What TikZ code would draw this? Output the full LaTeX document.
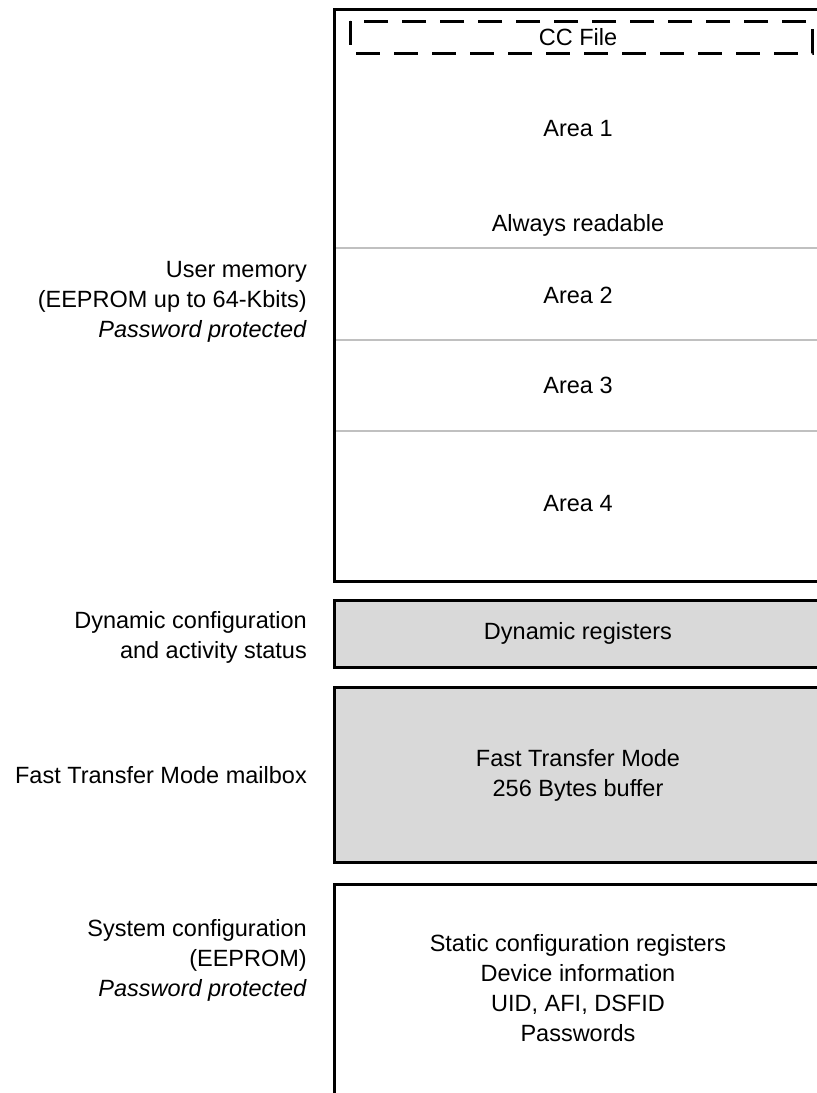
\documentclass[tikz,border=0pt]{standalone}
\usepackage{fontspec}
\setmainfont{Liberation Sans}
\begin{document}
\begin{tikzpicture}[x=1pt,y=-1pt,
  lbl/.style={font=\fontsize{23.5}{30}\selectfont, inner sep=0pt, align=center},
  lbll/.style={font=\fontsize{23.5}{30}\selectfont, inner sep=0pt, align=right, anchor=east},
  blk/.style={draw=black, line width=3pt},
  sep/.style={draw={rgb,255:red,192;green,192;blue,192}, line width=2pt},
  grayfill/.style={fill={rgb,255:red,217;green,217;blue,217}},
  ccbox/.style={draw=black, line width=3pt, dash pattern=on 24pt off 14pt}]
\useasboundingbox (0,0) rectangle (817,1093);
\clip (0,0) rectangle (817,1093);
% user memory box
\draw[blk] (834,9) -- (334,9) -- (334,581) -- (834,581);
\draw[ccbox] (350,21) rectangle (812,53);
\draw[sep] (336,248) -- (817,248);
\draw[sep] (336,340) -- (817,340);
\draw[sep] (336,431) -- (817,431);
% dynamic registers
\draw[blk,grayfill] (834,600) -- (334,600) -- (334,667) -- (834,667);
% FTM
\draw[blk,grayfill] (834,687) -- (334,687) -- (334,862) -- (834,862);
% system
\draw[blk] (834,884) -- (334,884) -- (334,1100);
% texts
\node[lbl] (cc) at (578,37) {CC File};
\node[lbl] (a1) at (578,129) {Area 1};
\node[lbl] (ar) at (578,225) {Always readable};
\node[lbl] (a2) at (578,295) {Area 2};
\node[lbl] (a3) at (578,385) {Area 3};
\node[lbl] (a4) at (578,504) {Area 4};
\node[lbl] (dr) at (578,633) {Dynamic registers};
\node[lbl] (ftm) at (578,775) {Fast Transfer Mode\\256 Bytes buffer};
\node[lbl] (st) at (578,988) {Static configuration registers\\Device information\\UID, AFI, DSFID\\Passwords};
\node[lbll] (um) at (307,302) {User memory\\(EEPROM up to 64-Kbits)\\\textit{Password protected}};
\node[lbll] (dc) at (307,637) {Dynamic configuration\\and activity status};
\node[lbll] (fm) at (307,775) {Fast Transfer Mode mailbox};
\node[lbll] (sc) at (307,960) {System configuration\\(EEPROM)\\\textit{Password protected}};
\end{tikzpicture}
\end{document}
